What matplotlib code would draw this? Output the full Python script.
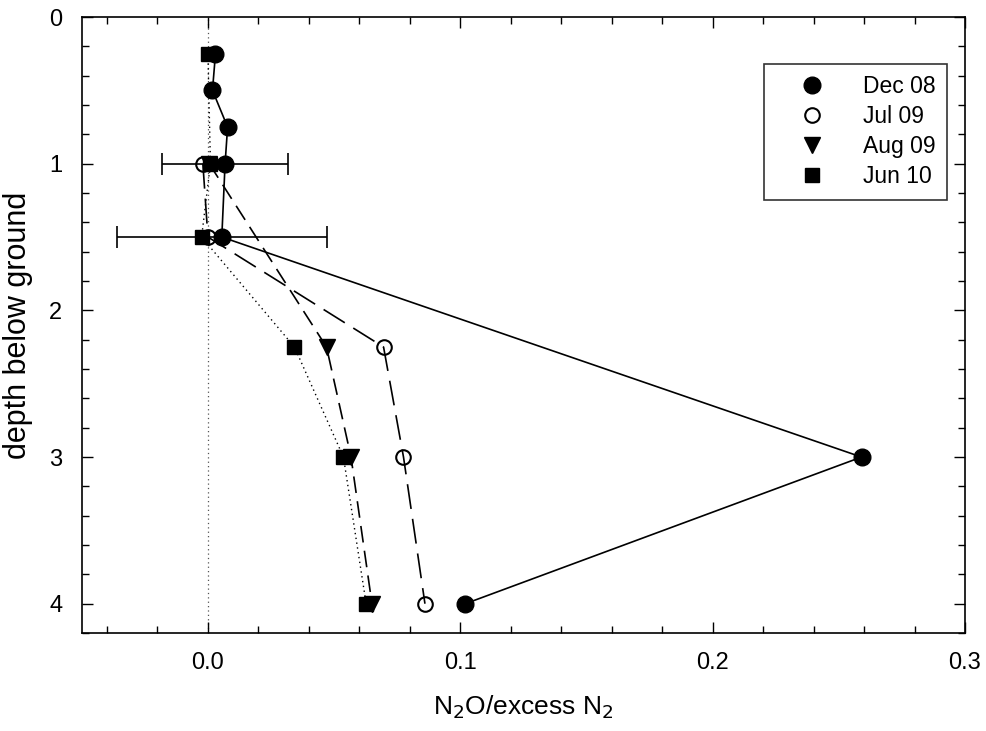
import matplotlib
matplotlib.use("Agg")
import matplotlib.pyplot as plt
import numpy as np
from matplotlib.ticker import MultipleLocator, FormatStrFormatter

plt.rcParams['font.family'] = ['Liberation Sans', 'DejaVu Sans']

# depth below ground and N2O / excess N2 ratio for each campaign
dec08_depth = [0.25, 0.5, 0.75, 1.0, 1.5, 3.0, 4.0]
dec08_ratio = [0.003, 0.0018, 0.0078, 0.0068, 0.0055, 0.259, 0.102]
dec08_xerr = [0, 0, 0, 0.025, 0.0415, 0, 0]

jul09_depth = [1.0, 1.5, 2.25, 3.0, 4.0]
jul09_ratio = [-0.002, 0.0, 0.0696, 0.0775, 0.086]

aug09_depth = [1.0, 2.25, 3.0, 4.0]
aug09_ratio = [0.0005, 0.047, 0.0567, 0.065]

jun10_depth = [0.25, 1.0, 1.5, 2.25, 3.0, 4.0]
jun10_ratio = [0.0, 0.001, -0.0025, 0.0343, 0.0537, 0.0627]

labels = ['Dec 08', 'Jul 09', 'Aug 09', 'Jun 10']

fig = plt.figure(figsize=(9.86, 7.31), dpi=100)
ax = fig.add_axes([0.0829, 0.134, 0.8958, 0.8427])

# zero reference line
ax.axvline(0, color='#555555', lw=0.9, ls=(0, (1, 2.5)), zorder=1)

h_jun, = ax.plot(jun10_ratio, jun10_depth, color='black', lw=1.0, ls=(0, (1, 2.5)),
                 marker='s', ms=10, mfc='black', mec='black', zorder=3)
h_aug, = ax.plot(aug09_ratio, aug09_depth, color='black', lw=1.2, ls=(0, (10, 5)),
                 marker='v', ms=11, mfc='black', mec='black', zorder=3)
h_jul, = ax.plot(jul09_ratio, jul09_depth, color='black', lw=1.2, ls=(0, (15, 6)),
                 marker='o', ms=10.5, mfc='none', mec='black', mew=1.5, zorder=4)
h_dec, = ax.plot(dec08_ratio, dec08_depth, color='black', lw=1.2, ls='-',
                 marker='o', ms=12, mfc='black', mec='black', zorder=5)

# error bars only where they were measured
err = np.array(dec08_xerr)
mask = err > 0
ax.errorbar(np.array(dec08_ratio)[mask], np.array(dec08_depth)[mask], xerr=err[mask],
            fmt='none', ecolor='black', elinewidth=1.2, capsize=8, capthick=1.2, zorder=4)

ax.set_xlim(-0.05, 0.3)
ax.set_ylim(4.2, 0)
ax.xaxis.set_major_locator(MultipleLocator(0.1))
ax.xaxis.set_minor_locator(MultipleLocator(0.02))
ax.xaxis.set_major_formatter(FormatStrFormatter('%.1f'))
ax.yaxis.set_major_locator(MultipleLocator(1))
ax.yaxis.set_minor_locator(MultipleLocator(0.2))
ax.tick_params(which='both', direction='in', top=True, right=True, width=1.0)
ax.tick_params(which='major', length=8, labelsize=17, pad=14)
ax.tick_params(which='minor', length=5)
for s in ax.spines.values():
    s.set_linewidth(1.2)

ax.set_xlabel('N$_2$O/excess N$_2$', fontsize=19, labelpad=14)
ax.set_ylabel('depth below ground', fontsize=22, labelpad=12)

leg = ax.legend([h_dec, h_jul, h_aug, h_jun], labels,
                loc='upper right', bbox_to_anchor=(0.9796, 0.9237), borderaxespad=0,
                fontsize=16.5, frameon=True, fancybox=False, edgecolor='black',
                handlelength=3.2, handletextpad=0.6, labelspacing=0.3, borderpad=0.5)
for line in leg.get_lines():
    line.set_linestyle('none')
leg.get_frame().set_linewidth(1.2)

fig.savefig('out.png', dpi=100)
